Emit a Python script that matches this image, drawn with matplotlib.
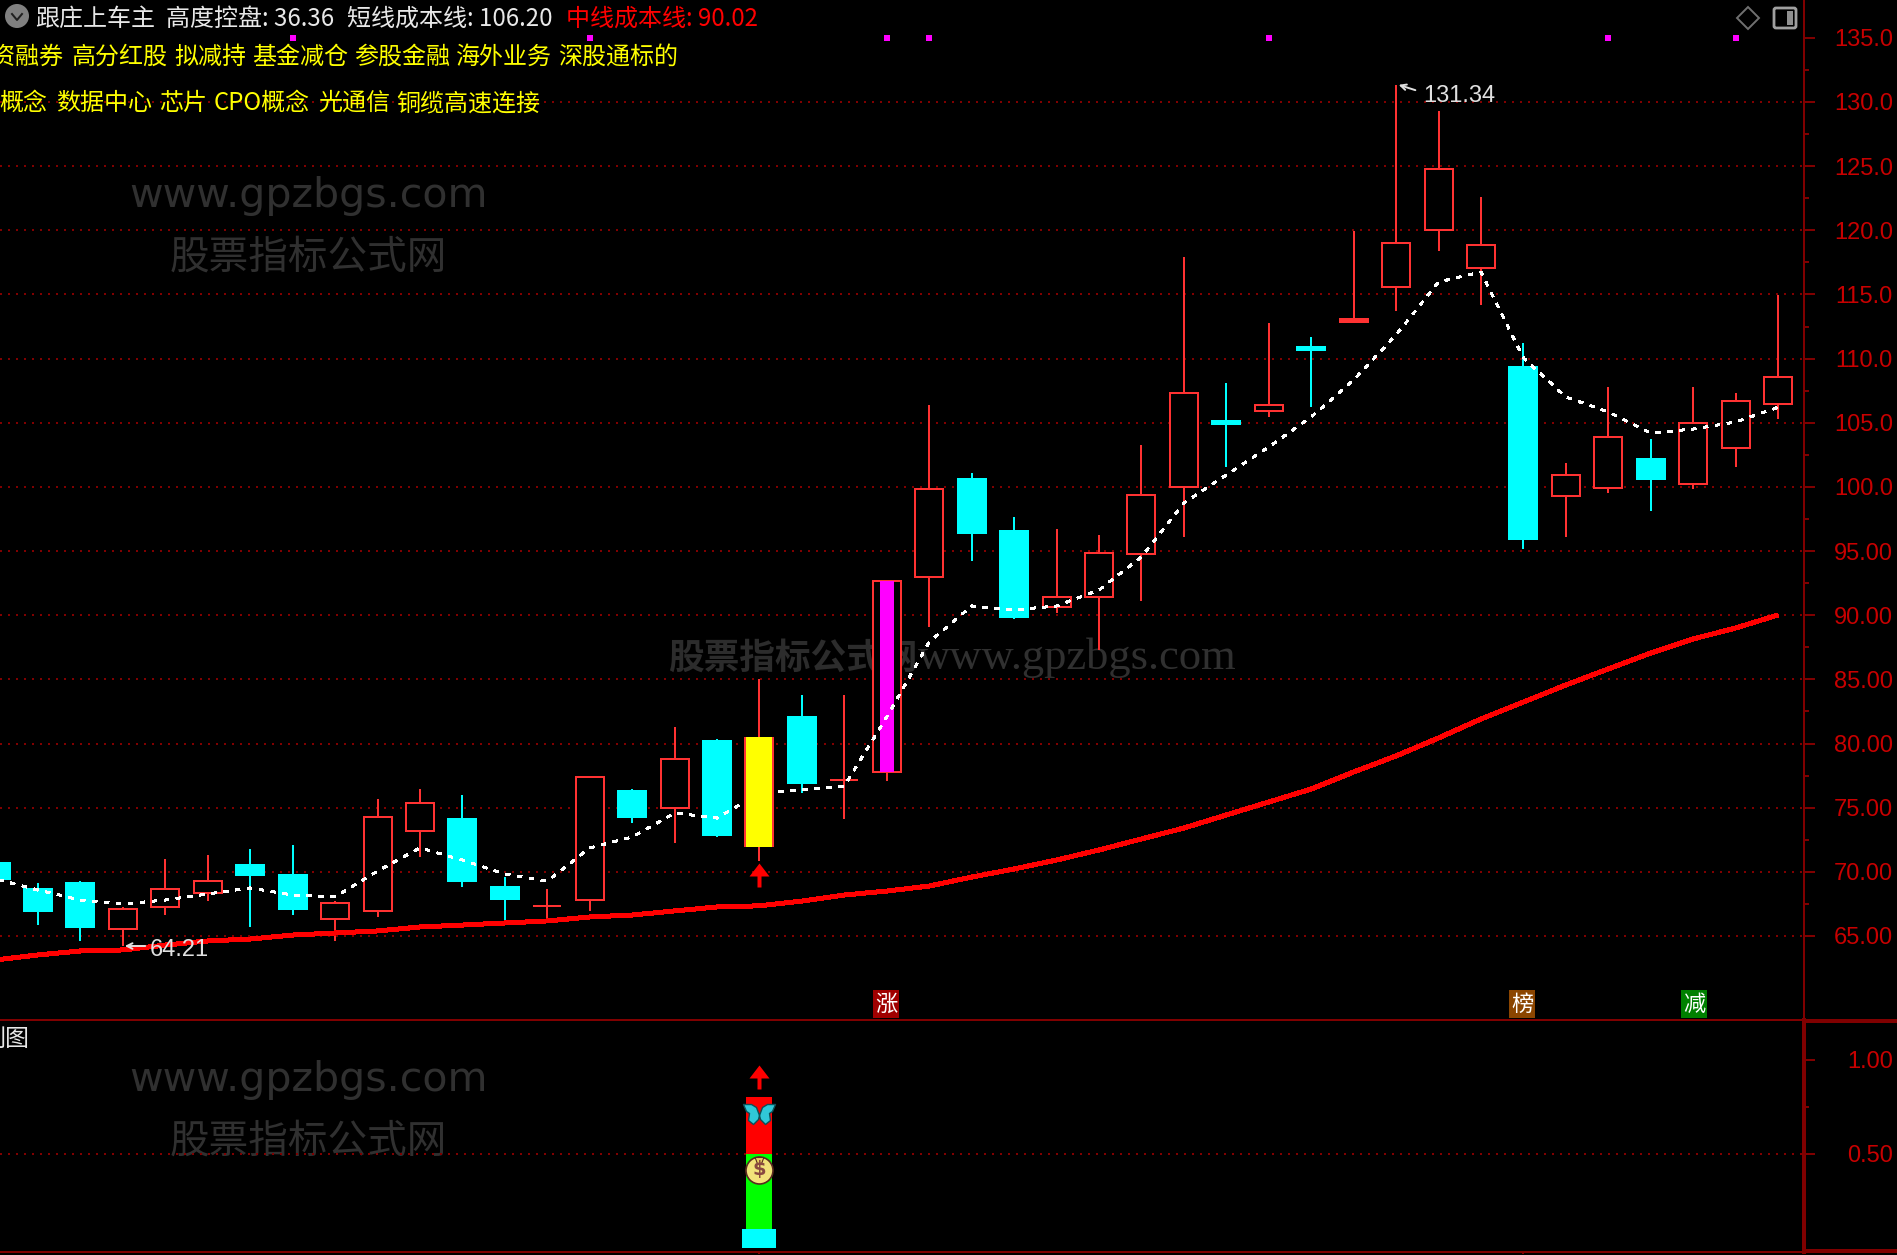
import matplotlib
matplotlib.use("Agg")
import matplotlib.pyplot as plt
from matplotlib.patches import Circle, Polygon, FancyBboxPatch, Rectangle
from matplotlib.path import Path

plt.rcParams['font.family'] = ['Noto Sans CJK SC', 'DejaVu Sans']

W, H = 1897, 1255

# candles, index -1 is the one cut off by the left edge
idx = list(range(-1, 42))
body_top = [70.69, 68.66, 69.13, 67.10, 68.66, 69.28, 70.53, 69.75, 67.57, 74.27, 75.36, 74.12, 68.82, 67.33,
            77.39, 76.30, 78.79, 80.19, 80.51, 82.07, 77.16, 92.67, 99.84, 100.62, 96.56, 91.42, 94.85, 99.37,
            107.32, 105.14, 106.38, 110.90, 113.09, 119.01, 124.78, 118.85, 109.35, 100.93, 103.89, 102.17,
            104.98, 106.70, 108.57]
body_bot = [69.44, 66.95, 65.70, 65.54, 67.26, 68.35, 69.75, 67.10, 66.32, 66.95, 73.18, 69.28, 67.88, 67.33,
            67.80, 74.27, 74.97, 72.87, 71.93, 76.92, 77.16, 77.78, 92.98, 96.41, 89.86, 90.64, 91.42, 94.77,
            99.99, 104.90, 105.92, 110.66, 112.85, 115.58, 120.02, 117.06, 95.94, 99.29, 99.91, 100.62,
            100.23, 103.03, 106.46]
high = [70.69, 69.13, 69.28, 67.26, 71.00, 71.31, 71.78, 72.09, 67.72, 75.67, 76.45, 75.99, 69.59, 68.66,
        77.39, 76.45, 81.29, 80.35, 85.03, 83.78, 83.78, 92.67, 106.38, 101.08, 97.65, 96.72, 96.25, 103.27,
        117.92, 108.10, 112.77, 111.68, 119.95, 131.34, 129.30, 122.60, 111.22, 101.86, 107.79, 103.73,
        107.79, 107.32, 114.96]
low = [69.44, 65.85, 64.61, 64.21, 66.63, 67.72, 65.70, 66.63, 64.61, 66.48, 71.15, 68.82, 66.17, 66.17,
       66.95, 73.80, 72.24, 72.71, 70.84, 76.14, 74.12, 77.08, 89.08, 94.22, 89.70, 90.17, 87.29, 91.11,
       96.10, 101.55, 105.45, 106.23, 112.85, 113.71, 118.39, 114.18, 95.16, 96.10, 99.52, 98.12,
       99.84, 101.55, 105.29]
# True = falling (solid cyan) candle
falling = [True, True, True, False, False, False, True, True, False, False, False, True, True, False,
           False, True, False, True, False, True, False, False, False, True, True, False, False, False,
           False, True, False, True, False, False, False, False, True, False, False, True,
           False, False, False]
yellow_candle = 17
magenta_candle = 20

short_cost = [69.44, 68.58, 67.80, 67.49, 67.80, 68.27, 68.74, 68.19, 68.04, 70.06, 71.86, 70.92, 69.83, 69.28,
              71.86, 72.71, 74.58, 74.19, 76.14, 76.38, 76.69, 82.07, 87.91, 90.72, 90.41, 90.72, 91.96, 94.54,
              98.75, 100.93, 103.11, 105.45, 108.33, 111.84, 115.97, 116.75, 110.05, 107.01, 105.84, 104.20,
              104.51, 105.06, 106.20]
mid_cost = [63.13, 63.52, 63.83, 63.91, 64.29, 64.61, 64.76, 65.07, 65.23, 65.39, 65.70, 65.85, 66.01, 66.17,
            66.48, 66.63, 66.95, 67.26, 67.35, 67.72, 68.19, 68.50, 68.89, 69.59, 70.22, 70.92, 71.70, 72.56,
            73.41, 74.43, 75.44, 76.45, 77.78, 79.03, 80.43, 81.91, 83.23, 84.56, 85.81, 87.05,
            88.15, 89.00, 90.02]

signal_idx = [6, 13, 20, 21, 29, 37, 40]
signal_price = 135
arrow_price = 69.75

grid_levels = [65, 70, 75, 80, 85, 90, 95, 100, 105, 110, 115, 120, 125, 130]
price_ticks = [65, 70, 75, 80, 85, 90, 95, 100, 105, 110, 115, 120, 125, 130, 135]
price_labels = ['65.00', '70.00', '75.00', '80.00', '85.00', '90.00', '95.00', '100.0', '105.0', '110.0',
                '115.0', '120.0', '125.0', '130.0', '135.0']
price_minor = [67.5, 72.5, 77.5, 82.5, 87.5, 92.5, 97.5, 102.5, 107.5, 112.5, 117.5, 122.5, 127.5, 132.5]

# lower panel
sub_ticks = [0.5, 1.0]
sub_labels = ['0.50', '1.00']
sub_minor = [0.75]
cyan_bar = [0.0, 0.1]
green_bar = [0.1, 0.5]
red_bar = [0.5, 0.805]
sub_arrow = 0.91
sub_butterfly = 0.723
sub_bag = 0.415
date_ticks = [17, 35]

DARK = '#800000'
CANDLE = '#ff3232'
px = 0.72  # one pixel in points at dpi 100

fig = plt.figure(figsize=(W / 100, H / 100), dpi=100, facecolor='black')
ax = fig.add_axes([0, (H - 1020) / H, 1804 / W, 1020 / H], facecolor='none')
sub = fig.add_axes([0, (H - 1252) / H, 1804 / W, 232 / H], facecolor='none')

xlim = (-38 / 42.44, 1766 / 42.44)
ax.set_xlim(xlim)
ax.set_ylim(130 - 918 / 12.83, 130 + 102 / 12.83)
sub.set_xlim(xlim)
sub.set_ylim(0.5 - 98 / 188, 0.5 + 134 / 188)

# watermarks sit behind everything
for wy in [196, 1080]:
    fig.text(129 / W, 1 - wy / H, 'www.gpzbgs.com', color='#303030', fontsize=29.6, family='DejaVu Sans',
             va='center', zorder=-1)
for wy in [258, 1142]:
    fig.text(170 / W, 1 - wy / H, '股票指标公式网', color='#303030', fontsize=28.5, va='center', zorder=-1)
fig.text(668 / W, 1 - 658 / H, '股票指标公式网', color='#2c2c2c', fontsize=25.7, weight='bold',
         family=['Noto Sans CJK SC'], va='center', zorder=-1)
fig.text(918 / W, 1 - 658 / H, 'www.gpzbgs.com', color='#303030', fontsize=32,
         family='Liberation Serif', va='center', zorder=-1)

ax.hlines(grid_levels, xlim[0], xlim[1], color=DARK, lw=2 * px, linestyles=[(0, (1, 3))], zorder=1)
sub.hlines([0.5], xlim[0], xlim[1], color=DARK, lw=2 * px, linestyles=[(0, (1, 3))], zorder=1)

# candles
bw = 28 / 42.44
for i, t, b, h, l, f in zip(idx, body_top, body_bot, high, low, falling):
    c = '#00ffff' if f else CANDLE
    ax.vlines(i, l, h, color=c, lw=2 * px, zorder=2, antialiased=False)
    if i == yellow_candle:
        # yellow body with red strips down the sides only, hides the white line
        ax.bar(i, t - b, bottom=b, width=30 / 42.44, color=CANDLE, zorder=6, antialiased=False)
        ax.bar(i, t - b, bottom=b, width=26 / 42.44, color='#ffff00', zorder=6.1, antialiased=False)
        continue
    face = c if f else 'black'
    if t - b < 0.3 and t != b:
        face = c
    ax.bar(i, t - b, bottom=b, width=bw, facecolor=face, edgecolor=c, lw=2 * px, zorder=3, antialiased=False)
    if i == magenta_candle:
        ax.bar(i, t - b, bottom=b, width=14 / 42.44, color='#ff00ff', zorder=3.5, antialiased=False)

ax.plot(idx, short_cost, color='white', lw=1.5 * px, linestyle=(0, (3, 5)), dash_capstyle='butt', zorder=5,
        antialiased=False)
ax.plot(idx, mid_cost, color='#ff0000', lw=4 * px, zorder=4, antialiased=False, solid_capstyle='butt')

ax.scatter(signal_idx, [signal_price] * len(signal_idx), marker='s', s=(6 * px) ** 2, color='#ff00ff',
           linewidths=0, zorder=5)

arrow = Path([(-10, -1), (0, 12), (10, -1), (2, -1), (2, -12), (-2, -12), (-2, -1), (-10, -1)], closed=True)
ax.scatter([yellow_candle], [arrow_price], marker=arrow, s=(24 * px) ** 2, color='#ff0000', linewidths=0, zorder=6)

# lower panel bars
sub.bar(yellow_candle, green_bar[1] - green_bar[0], bottom=green_bar[0], width=26 / 42.44, color='#00ff00',
        zorder=2, antialiased=False)
sub.bar(yellow_candle, red_bar[1] - red_bar[0], bottom=red_bar[0], width=26 / 42.44, color='#ff0000',
        zorder=2, antialiased=False)
sub.bar(yellow_candle, cyan_bar[1] - cyan_bar[0], bottom=cyan_bar[0], width=34 / 42.44, color='#00ffff',
        zorder=2, antialiased=False)
sub.scatter([yellow_candle], [sub_arrow], marker=arrow, s=(24 * px) ** 2, color='#ff0000', linewidths=0, zorder=3)

wings = Path([(0, -3), (-3, 5), (-8, 8), (-16, 8), (-13, 1), (-10, -1), (-11, -8), (-6, -12), (-1, -7), (0, -3),
              (1, -7), (6, -12), (11, -8), (10, -1), (13, 1), (16, 8), (8, 8), (3, 5), (0, -3)], closed=True)
sub.scatter([yellow_candle], [sub_butterfly], marker=wings, s=(32 * px) ** 2, color='#30c8d8',
            edgecolors='#0c5058', linewidths=1, zorder=4)
sub.scatter([yellow_candle], [sub_bag], marker='o', s=(27 * px) ** 2, color='#f2e27a', edgecolors='#5a2a20',
            linewidths=1.2, zorder=4)
neck = Path([(-5, 0), (5, 0), (2, -8), (-2, -8), (-5, 0)], closed=True)
sub.scatter([yellow_candle], [sub_bag + 0.07], marker=neck, s=(14 * px) ** 2, color='#e8d060',
            edgecolors='#5a2a20', linewidths=0.8, zorder=4)
sub.text(yellow_candle, sub_bag, '$', color='#8a4a40', fontsize=14, weight='bold', family='DejaVu Sans',
         ha='center', va='center', zorder=5)

# axes
for a, ticks, labels, minor in [(ax, price_ticks, price_labels, price_minor), (sub, sub_ticks, sub_labels, sub_minor)]:
    for s in ['top', 'left', 'bottom']:
        a.spines[s].set_visible(False)
    a.spines['right'].set_color(DARK)
    a.yaxis.tick_right()
    a.set_yticks(ticks)
    a.set_yticklabels(labels)
    a.set_yticks(minor, minor=True)
    a.tick_params(axis='y', which='major', length=11 * px, width=2 * px, color=DARK, labelcolor='#c80000',
                  labelsize=17, pad=56, labelfontfamily='Liberation Sans')
    a.tick_params(axis='y', which='minor', length=5 * px, width=2 * px, color=DARK)
    for lab in a.get_yticklabels():
        lab.set_ha('right')
ax.spines['right'].set_linewidth(2 * px)
sub.spines['right'].set_linewidth(4 * px)
ax.set_xticks([])
sub.spines['bottom'].set_visible(True)
sub.spines['bottom'].set_color(DARK)
sub.spines['bottom'].set_linewidth(2 * px)
sub.set_xticks(date_ticks)
sub.set_xticklabels([])
sub.tick_params(axis='x', length=2 * px, width=2 * px, color=DARK)

# front layer in pixels: header text, badges, window icons
top = fig.add_axes([0, 0, 1, 1], facecolor='none')
top.set_xlim(0, W)
top.set_ylim(H, 0)
top.axis('off')

top.plot([0, 1804], [1020, 1020], color=DARK, lw=2 * px, antialiased=False)
top.plot([1804, W], [1021, 1021], color=DARK, lw=4 * px, antialiased=False)
top.plot([1804, W], [1251, 1251], color=DARK, lw=4 * px, antialiased=False)

fs = 17.3
header = [(35, '跟庄上车主', '#e8e8e8'), (166, '高度控盘: 36.36', '#e8e8e8'), (347, '短线成本线: 106.20', '#e8e8e8'),
          (566, '中线成本线: 90.02', '#ff0000')]
for x, s, c in header:
    top.text(x, 19, s, color=c, fontsize=fs, va='center')
line2 = [(-32, '融资融券'), (72, '高分红股'), (174, '拟减持'), (252, '基金减仓'), (354, '参股金融'), (456, '海外业务'),
         (558, '深股通标的')]
for x, s in line2:
    top.text(x, 57, s, color='#ffff00', fontsize=fs, va='center')
line3 = [(-1, '概念'), (56, '数据中心'), (159, '芯片'), (214, 'CPO概念'), (318, '光通信'), (396, '铜缆高速连接')]
for x, s in line3:
    top.text(x, 103, s, color='#ffff00', fontsize=fs, va='center')
top.text(-18, 1039, '副图', color='#e8e8e8', fontsize=fs, va='center')

top.annotate('', xy=(1396, 84), xytext=(1418, 91), arrowprops=dict(arrowstyle='->', color='#e0e0e0', lw=1.4))
top.text(1423, 96, '131.34', color='#e0e0e0', fontsize=17, family='Liberation Sans', va='center')
top.annotate('', xy=(122, 946), xytext=(148, 946), arrowprops=dict(arrowstyle='->', color='#e0e0e0', lw=1.4))
top.text(150, 950, '64.21', color='#e0e0e0', fontsize=17, family='Liberation Sans', va='center')

for x, s, c in [(886, '涨', '#a00000'), (1522, '榜', '#8b4500'), (1694, '减', '#008000')]:
    top.text(x, 1004, s, color='white', fontsize=16, ha='center', va='center',
             bbox=dict(boxstyle='square,pad=0.1', fc=c, ec='none'))

top.add_patch(Circle((17, 16), 12, fc='#808080', ec='none'))
top.plot([12, 17, 22], [14, 20, 14], color='#202020', lw=2 * px)
top.add_patch(Polygon([(1748, 7), (1759, 18), (1748, 29), (1737, 18)], closed=True, fc='none', ec='#707070', lw=1.4))
top.add_patch(FancyBboxPatch((1775, 9), 20, 18, boxstyle='round,pad=1,rounding_size=2', fc='none', ec='#a0a0a0', lw=2))
top.add_patch(Rectangle((1787, 11), 6, 14, fc='#909090', ec='none'))

fig.savefig('out.png', dpi=100, facecolor='black')
